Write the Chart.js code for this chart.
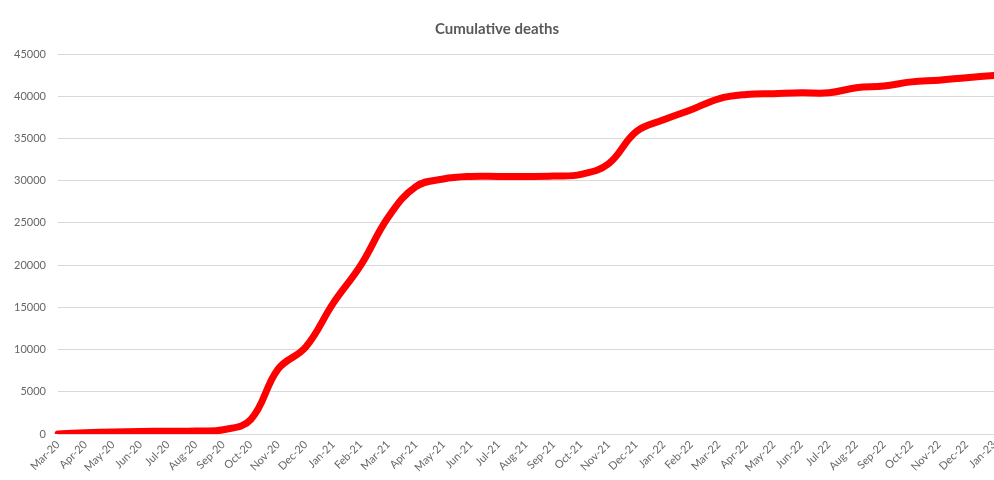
<!DOCTYPE html>
<html>
<head>
<meta charset="utf-8">
<script src="https://cdn.jsdelivr.net/npm/chart.js@4/dist/chart.umd.min.js"></script>
<style>
  html, body { margin: 0; padding: 0; background: #fff; }
  #wrap { width: 994px; height: 480px; }
</style>
</head>
<body>
<div id="wrap"><canvas id="myChart" width="994" height="480"></canvas></div>
<script>
// month labels, Mar-20 .. Jan-23
const months = [
  'Mar-20', 'Apr-20', 'May-20', 'Jun-20', 'Jul-20', 'Aug-20', 'Sep-20', 'Oct-20', 'Nov-20', 'Dec-20',
  'Jan-21', 'Feb-21', 'Mar-21', 'Apr-21', 'May-21', 'Jun-21', 'Jul-21', 'Aug-21', 'Sep-21', 'Oct-21', 'Nov-21', 'Dec-21',
  'Jan-22', 'Feb-22', 'Mar-22', 'Apr-22', 'May-22', 'Jun-22', 'Jul-22', 'Aug-22', 'Sep-22', 'Oct-22', 'Nov-22', 'Dec-22',
  'Jan-23'
];

// cumulative deaths
const deaths = [
  0, 150, 250, 300, 320, 350, 500, 1700, 7700, 10300,
  15500, 20000, 25700, 29300, 30200, 30500, 30500, 30500, 30550, 30750, 32000, 35800,
  37200, 38400, 39700, 40200, 40300, 40400, 40400, 41000, 41200, 41700, 41900, 42200,
  42450
];

const yMax = 45000;
const yStep = 5000;
const textGrey = '#666666';

const ctx = document.getElementById('myChart').getContext('2d');
new Chart(ctx, {
  type: 'line',
  data: {
    labels: months,
    datasets: [
      {
        label: 'Cumulative deaths',
        data: deaths,
        borderColor: '#ff0000',
        borderWidth: 7,
        borderCapStyle: 'round',
        borderJoinStyle: 'round',
        pointRadius: 0,
        tension: 0.4,
        fill: false,
      },
    ],
  },
  options: {
    responsive: false,
    animation: false,
    layout: { padding: { left: 0, right: 0, top: 0, bottom: 0 } },
    plugins: {
      legend: { display: false },
      tooltip: { enabled: false },
      title: {
        display: true,
        text: 'Cumulative deaths',
        color: '#595959',
        font: { family: 'Lato', size: 15, weight: 'bold' },
        padding: { top: 20, bottom: 16 },
      },
    },
    scales: {
      x: {
        offset: false,
        grid: { display: false, drawTicks: false },
        border: { display: false },
        ticks: {
          color: textGrey,
          font: { family: 'Lato', size: 11 },
          minRotation: 45,
          maxRotation: 45,
          autoSkip: false,
          padding: 4,
        },
        afterFit: (scale) => {
          scale.height = 46;
          scale.paddingRight = 0;
        },
      },
      y: {
        min: 0,
        max: yMax,
        grid: { color: '#d9d9d9', lineWidth: 1, drawTicks: false },
        border: { display: false },
        ticks: {
          stepSize: yStep,
          color: textGrey,
          font: { family: 'Lato', size: 11 },
          padding: 12,
          callback: (v) => String(v),
        },
        afterFit: (scale) => {
          scale.width = 58;
        },
      },
    },
  },
});
</script>
</body>
</html>
